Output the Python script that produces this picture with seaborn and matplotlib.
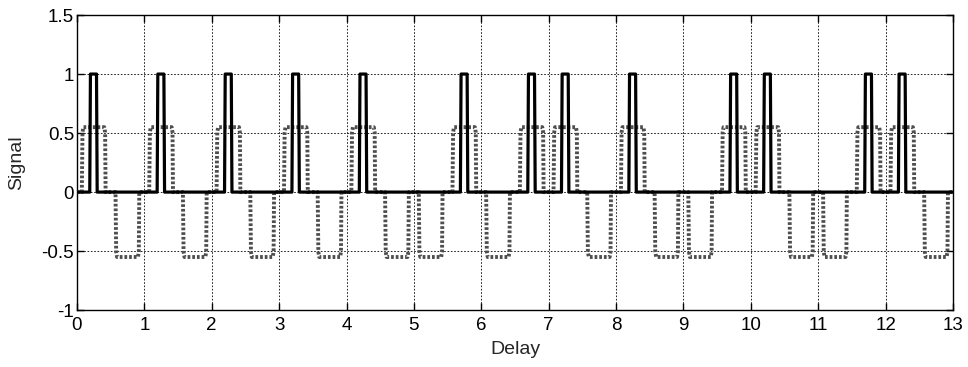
import numpy as np
import pandas as pd
import matplotlib
matplotlib.use("Agg")
import matplotlib.pyplot as plt
import seaborn as sns

# ---- data ----
solid_centers = [0.25, 1.25, 2.25, 3.25, 4.25, 5.75, 6.75, 7.25, 8.25, 9.75, 10.25, 11.75, 12.25]
dotted_pos_centers = [0.25, 1.25, 2.25, 3.25, 4.25, 5.75, 6.75, 7.25, 8.25, 9.75, 10.25, 11.75, 12.25]
dotted_neg_centers = [0.75, 1.75, 2.75, 3.75, 4.75, 5.25, 6.25, 7.75, 8.75, 9.25, 10.75, 11.25, 12.75]
solid_amp = 1.0
dotted_amp = 0.55
# pulse outline (offset from centre, fraction of amplitude)
solid_shape_dx = [-0.06, -0.05, 0.04, 0.05]
solid_shape_f = [0.0, 1.0, 1.0, 0.0]
dotted_shape_dx = [-0.178, -0.168, -0.155, 0.155, 0.168, 0.175]
dotted_shape_f = [0.0, 0.92, 1.0, 1.0, 0.92, 0.0]
x_start, x_end = 0.0, 13.0
x_ticks = list(range(0, 14))
y_ticks = [-1, -0.5, 0, 0.5, 1, 1.5]
y_ticklabels = ["-1", "-0.5", "0", "0.5", "1", "1.5"]


def build(pulses, dxs, fs):
    xs, ys = [x_start], [0.0]
    for c, a in sorted(pulses):
        for dx, f in zip(dxs, fs):
            xs.append(c + dx)
            ys.append(a * f)
    xs.append(x_end)
    ys.append(0.0)
    return xs, ys


sx, sy = build([(c, solid_amp) for c in solid_centers], solid_shape_dx, solid_shape_f)
dx_, dy_ = build([(c, dotted_amp) for c in dotted_pos_centers] +
                 [(c, -dotted_amp) for c in dotted_neg_centers],
                 dotted_shape_dx, dotted_shape_f)

df_solid = pd.DataFrame({"Delay": sx, "Signal": sy})
df_dot = pd.DataFrame({"Delay": dx_, "Signal": dy_})

sns.set_style("ticks")
plt.rcParams['font.family'] = ['Liberation Sans', 'DejaVu Sans']

fig = plt.figure(figsize=(9.68, 3.67), dpi=100)
ax = fig.add_axes([0.0795, 0.155, 0.905, 0.804])

sns.lineplot(data=df_dot, x="Delay", y="Signal", sort=False, estimator=None,
             ax=ax, color="#4e4e4e", linewidth=2.8, linestyle=(0, (0.7, 0.5)), zorder=3)
sns.lineplot(data=df_solid, x="Delay", y="Signal", sort=False, estimator=None,
             ax=ax, color="black", linewidth=2.3, zorder=4)

ax.set_xlim(0, 13)
ax.set_ylim(-1, 1.5)
ax.set_xticks(x_ticks)
ax.set_xticklabels([str(t) for t in x_ticks])
ax.set_yticks(y_ticks)
ax.set_yticklabels(y_ticklabels)
ax.grid(True, color="black", linestyle=(0, (2, 2)), linewidth=0.6)
ax.tick_params(direction="in", length=5, width=1, top=True, right=True,
               labelsize=13.5, colors="black")
ax.tick_params(axis="y", pad=2)
ax.tick_params(axis="x", pad=5)
for s in ax.spines.values():
    s.set_visible(True)
    s.set_color("black")
    s.set_linewidth(1.0)
ax.set_xlabel("Delay", fontsize=14, labelpad=5)
ax.set_ylabel("Signal", fontsize=14, labelpad=12)

fig.savefig("out.png", dpi=100)
